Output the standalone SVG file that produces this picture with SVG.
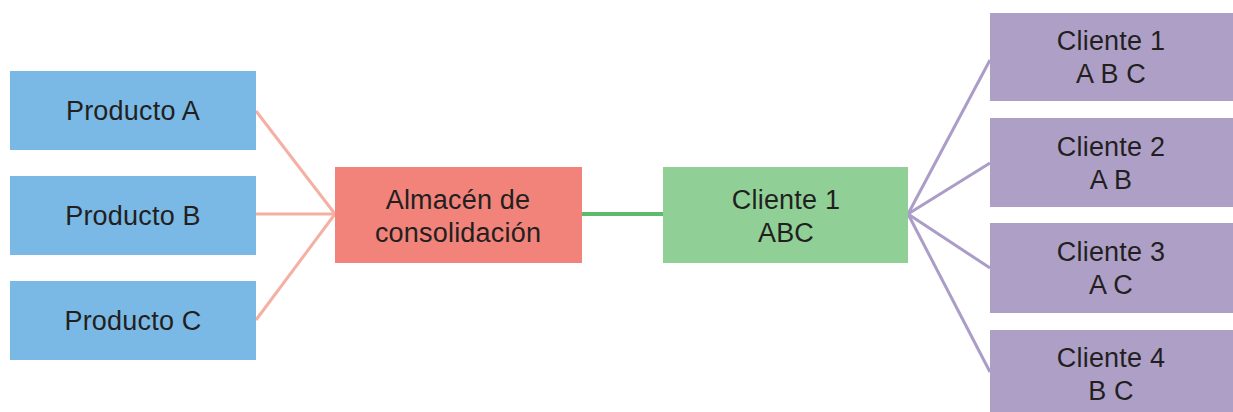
<svg xmlns="http://www.w3.org/2000/svg" width="1233" height="412" viewBox="0 0 1233 412">
<style>
text{font-family:"Liberation Sans",Arial,sans-serif;font-size:27px;fill:#231f20;text-anchor:middle;letter-spacing:0.2px}
.prod{fill:#7ab9e5}
.alm{fill:#f2837a}
.cli{fill:#90d097}
.dest{fill:#ae9fc7}
.lp{stroke:#f5b0a4;stroke-width:3;fill:none}
.lg{stroke:#5fbb6c;stroke-width:4;fill:none}
.lv{stroke:#ab9cc8;stroke-width:3;fill:none}
</style>
<rect width="1233" height="412" fill="#ffffff"/>
<g id="connectors">
<line class="lp" x1="256" y1="111" x2="335" y2="214"/>
<line class="lp" x1="256" y1="214" x2="335" y2="214"/>
<line class="lp" x1="256" y1="320" x2="335" y2="214"/>
<line class="lg" x1="582" y1="214" x2="663" y2="214"/>
<line class="lv" x1="908" y1="214" x2="990" y2="60"/>
<line class="lv" x1="908" y1="214" x2="990" y2="163"/>
<line class="lv" x1="908" y1="214" x2="990" y2="268"/>
<line class="lv" x1="908" y1="214" x2="990" y2="372"/>
</g>
<g id="producto-a"><rect class="prod" x="10" y="71" width="246" height="79"/><text x="133" y="120">Producto A</text></g>
<g id="producto-b"><rect class="prod" x="10" y="176" width="246" height="79"/><text x="133" y="225">Producto B</text></g>
<g id="producto-c"><rect class="prod" x="10" y="281" width="246" height="79"/><text x="133" y="330">Producto C</text></g>
<g id="almacen"><rect class="alm" x="335" y="167" width="247" height="96"/><text x="458" y="209">Almacén de</text><text x="458" y="242">consolidación</text></g>
<g id="cliente-abc"><rect class="cli" x="663" y="167" width="245" height="96"/><text x="786" y="209">Cliente 1</text><text x="786" y="242">ABC</text></g>
<g id="cliente-1"><rect class="dest" x="990" y="13" width="243" height="88"/><text x="1111" y="50">Cliente 1</text><text x="1111" y="83">A B C</text></g>
<g id="cliente-2"><rect class="dest" x="990" y="118" width="243" height="89"/><text x="1111" y="156">Cliente 2</text><text x="1111" y="189">A B</text></g>
<g id="cliente-3"><rect class="dest" x="990" y="223" width="243" height="90"/><text x="1111" y="261">Cliente 3</text><text x="1111" y="294">A C</text></g>
<g id="cliente-4"><rect class="dest" x="990" y="330" width="243" height="90"/><text x="1111" y="367">Cliente 4</text><text x="1111" y="400">B C</text></g>
</svg>
